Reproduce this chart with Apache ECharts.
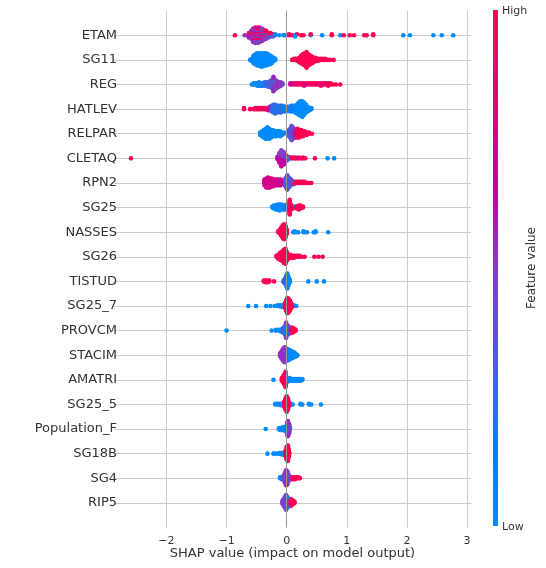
<!DOCTYPE html>
<html><head><meta charset="utf-8">
<script src="https://cdn.jsdelivr.net/npm/echarts@6/dist/echarts.min.js"></script>
<style>html,body{margin:0;padding:0;background:#fff}#c{width:546px;height:568px}</style>
</head><body><div id="c"></div>
<script>
// features, top to bottom
const features = ['ETAM','SG11','REG','HATLEV','RELPAR','CLETAQ','RPN2','SG25','NASSES','SG26','TISTUD','SG25_7','PROVCM','STACIM','AMATRI','SG25_5','Population_F','SG18B','SG4','RIP5'];
const xTicks = [-2,-1,0,1,2,3];
const colorbarLabels = ['High','Low'];
// each entry: [SHAP value, feature value (0 = low .. 1 = high), number of samples]
const ETAM = [[-0.86,1,1],[-0.70,0.5,1],
 [-0.63,0.6,3],[-0.63,1,2],[-0.59,0.55,5],[-0.59,1,3],
 [-0.56,0.5,6],[-0.56,0.8,4],[-0.56,1,3],[-0.52,0.5,6],[-0.52,0.8,5],[-0.52,1,4],
 [-0.48,0.45,6],[-0.48,0.8,5],[-0.48,1,4],[-0.45,0.5,5],[-0.45,0.8,5],[-0.45,1,4],
 [-0.41,0.45,5],[-0.41,0.75,4],[-0.41,1,3],[-0.38,0.5,4],[-0.38,1,4],[-0.38,0.3,2],
 [-0.34,0.5,3],[-0.34,1,3],[-0.34,0.3,2],[-0.30,0.4,3],[-0.30,1,2],
 [-0.27,0.3,2],[-0.27,1,2],[-0.23,0.4,2],[-0.23,1,1],
 [-0.19,0.1,2],[-0.12,0,1],[-0.05,0,1],[-0.01,0,1],[0.04,1,2],[0.09,1,1],[0.14,0,2],[0.17,1,1],
 [0.24,1,1],[0.28,1,1],[0.40,0,1],[0.40,1,1],[0.59,0,1],[0.75,1,2],[0.89,0,1],[0.95,1,1],
 [1.05,1,1],[1.12,1,1],[1.29,1,1],[1.33,1,1],[1.44,1,2],[1.94,0,1],[2.05,0,1],[2.44,0,1],[2.58,0,1],[2.77,0,1]];
const SG11 = [[-0.61,0,1],[-0.58,0,3],[-0.55,0,8],[-0.52,0,10],[-0.49,0,12],[-0.46,0,12],[-0.43,0,13],
 [-0.40,0,13],[-0.37,0,12],[-0.34,0,12],[-0.31,0,10],[-0.28,0,9],[-0.25,0,7],[-0.22,0,4],[-0.19,0,2],
 [0.09,1,1],[0.12,1,2],[0.15,1,2],[0.18,1,3],[0.21,1,5],[0.24,1,8],[0.27,1,10],[0.30,1,12],[0.33,1,15],
 [0.36,1,11],[0.39,1,9],[0.42,1,7],[0.45,1,5],[0.48,1,4],[0.52,1,3],[0.56,1,2],[0.60,1,2],[0.64,1,2],
 [0.68,1,1],[0.72,1,1],[0.78,1,1]];
const REG = [[-0.58,0,1],[-0.55,0,2],[-0.52,0.05,2],[-0.49,0,3],[-0.46,0.1,4],[-0.43,0,3],[-0.40,0.2,3],
 [-0.37,0.1,4],[-0.34,0.3,4],[-0.31,0.2,5],[-0.28,0.35,6],[-0.25,0.45,5],[-0.25,0.1,3],[-0.22,0.55,9],[-0.22,0.1,5],
 [-0.19,0.45,9],[-0.16,0.55,7],[-0.13,0.5,5],[-0.10,0.5,4],[-0.07,0.45,2],
 [0.06,0.7,2],[0.09,0.75,2],[0.13,0.8,2],[0.17,0.9,2],[0.21,0.85,2],[0.25,1,2],[0.29,0.8,3],[0.33,0.9,2],
 [0.37,1,2],[0.41,0.85,2],[0.45,1,2],[0.49,0.8,2],[0.53,1,2],[0.57,0.9,3],[0.61,1,2],[0.65,0.8,2],
 [0.69,1,3],[0.73,1,2],[0.77,1,1],[0.82,1,1],[0.89,1,1]];
const HATLEV = [[-0.71,1,2],[-0.61,1,1],[-0.55,1,1],[-0.52,1,2],[-0.49,0.9,2],[-0.46,1,2],[-0.43,0.9,2],
 [-0.40,1,2],[-0.37,0.85,2],[-0.34,1,2],[-0.31,0.8,3],[-0.28,0.6,4],[-0.25,0.3,6],[-0.22,0.2,8],[-0.19,0.25,9],
 [-0.16,0.2,7],[-0.13,0.2,6],[-0.10,0.25,7],[-0.07,0.2,6],[-0.04,0.15,5],[-0.01,0.15,5],[0.02,0.1,4],
 [0.05,0.1,5],[0.08,0.15,6],[0.11,0.1,6],[0.14,0.05,7],[0.17,0,9],[0.20,0,12],[0.23,0,14],[0.26,0,15],
 [0.29,0,12],[0.32,0,8],[0.35,0,5],[0.38,0,3],[0.41,0,2]];
const RELPAR = [[-0.44,0,3],[-0.41,0,5],[-0.38,0,7],[-0.35,0,9],[-0.32,0,10],[-0.29,0,9],[-0.26,0,7],
 [-0.23,0,6],[-0.20,0,5],[-0.17,0,5],[-0.14,0,4],[-0.11,0,5],[-0.08,0,3],[-0.05,0,2],
 [0.02,0.3,4],[0.04,0.5,6],[0.06,0.3,8],[0.08,0.4,12],[0.10,0.35,10],[0.12,0.6,8],[0.15,0.8,7],
 [0.18,1,8],[0.21,1,7],[0.24,1,6],[0.27,1,5],[0.30,1,4],[0.33,1,3],[0.37,1,2],[0.42,1,1]];
const CLETAQ = [[-2.59,1,1],[-0.15,0.65,4],[-0.12,0.7,6],[-0.12,0.5,6],[-0.09,0.7,10],[-0.09,0.5,9],
 [-0.05,0.65,8],[-0.05,0.45,7],[-0.02,0.6,5],[-0.02,0.3,3],[0.01,0.2,3],[0.01,0.7,2],[0.04,0,2],
 [0.07,1,2],[0.10,1,2],[0.14,1,2],[0.17,1,1],[0.20,0.8,2],[0.24,1,1],[0.27,1,2],[0.31,1,1],
 [0.47,1,1],[0.68,0,1],[0.79,0,1]];
const RPN2 = [[-0.37,0.75,6],[-0.34,0.75,9],[-0.31,0.75,10],[-0.28,0.75,9],[-0.25,0.75,8],[-0.22,0.75,7],
 [-0.19,0.75,6],[-0.16,0.7,6],[-0.13,0.7,6],[-0.10,0.75,6],[-0.07,0.7,4],
 [-0.03,0.4,6],[-0.01,0.35,10],[0.01,0.4,14],[0.03,0.2,10],[0.05,0.45,8],[0.07,0.35,6],[0.09,0.5,4],
 [0.12,1,3],[0.15,1,2],[0.18,1,2],[0.21,1,2],[0.24,1,2],[0.27,1,2],[0.30,1,2],[0.33,1,1],[0.37,1,1],[0.41,1,1]];
const SG25 = [[-0.24,0,2],[-0.21,0,4],[-0.18,0,5],[-0.15,0,6],[-0.12,0,7],[-0.09,0,6],[-0.06,0,5],
 [-0.03,0.1,5],[0.00,0.2,6],[0.03,0.5,4],[0.05,1,16],[0.07,0.9,6],[0.10,1,3],[0.13,0,2],
 [0.17,1,3],[0.20,1,5],[0.23,1,4],[0.27,1,2]];
const NASSES = [[-0.14,1,2],[-0.12,1,4],[-0.10,1,8],[-0.08,1,12],[-0.06,1,16],[-0.04,1,18],[-0.02,1,14],
 [0.00,1,6],[0.11,0,1],[0.13,0,2],[0.16,0,1],[0.19,0,1],[0.28,0,2],[0.31,0,1],[0.34,0,1],
 [0.45,0,1],[0.48,0,2],[0.69,0,1]];
const SG26 = [[-0.17,1,2],[-0.14,1,5],[-0.11,1,8],[-0.08,1,10],[-0.05,1,14],[-0.03,0.1,3],[-0.02,1,16],
 [0.00,1,10],[0.02,0.2,3],[0.03,1,5],[0.06,1,4],[0.09,1,3],[0.12,1,3],[0.15,1,2],[0.18,1,2],
 [0.21,1,2],[0.25,1,1],[0.30,1,1],[0.46,1,1],[0.53,1,1],[0.60,1,1]];
const TISTUD = [[-0.38,1,2],[-0.35,1,3],[-0.32,1,3],[-0.29,1,2],[-0.21,1,1],[-0.05,0.3,3],[-0.03,0.4,6],
 [-0.01,0.2,12],[0.01,0.1,18],[0.03,0,10],[0.05,0,4],[0.36,0,1],[0.50,0,1],[0.62,0,1]];
const SG25_7 = [[-0.64,0,1],[-0.51,0,1],[-0.34,0,1],[-0.27,0,1],[-0.20,0,1],[-0.15,0,2],[-0.12,0,2],
 [-0.09,0,3],[-0.06,0,3],[-0.03,0.9,6],[-0.01,1,14],[0.01,1,20],[0.03,1,18],[0.05,1,14],[0.07,1,8],
 [0.09,0.9,3],[0.12,0,2],[0.16,0,1]];
const PROVCM = [[-1.00,0,1],[-0.25,0,1],[-0.18,0,2],[-0.13,0,2],[-0.10,0,3],[-0.07,0.2,5],[-0.05,0.4,8],
 [-0.03,0.1,12],[-0.01,0.5,16],[-0.01,0,6],[0.01,0.3,12],[0.03,0.6,8],[0.03,0,4],[0.05,1,6],
 [0.07,0.8,6],[0.09,1,8],[0.11,1,6],[0.13,1,4],[0.15,1,2]];
const STACIM = [[-0.11,0.5,4],[-0.09,0.55,8],[-0.07,0.5,12],[-0.05,0.55,16],[-0.03,0.5,18],[-0.01,0.45,14],
 [0.01,0.2,8],[0.01,0,6],[0.04,0,12],[0.07,0,10],[0.10,0,8],[0.13,0,6],[0.16,0,3],[0.18,0,1]];
const AMATRI = [[-0.22,0,1],[-0.08,1,4],[-0.06,1,8],[-0.04,0.9,12],[-0.02,1,10],[-0.02,0,8],[0.00,0.6,4],
 [0.02,0,5],[0.05,0,4],[0.08,0,3],[0.11,0,3],[0.14,0,3],[0.17,0,3],[0.20,0,3],[0.23,0,3],[0.26,0,2]];
const SG25_5 = [[-0.19,0,2],[-0.16,0,2],[-0.13,0,2],[-0.10,0,3],[-0.07,0,3],[-0.04,1,8],[-0.02,1,16],
 [0.00,1,22],[0.02,1,16],[0.04,1,6],[0.07,0,2],[0.10,0,1],[0.23,0,2],[0.26,0,1],[0.37,0,2],[0.41,0,1],[0.57,0,1]];
const Population_F = [[-0.35,0,1],[-0.13,0,2],[-0.11,0,3],[-0.09,0,3],[-0.07,0,4],[-0.05,0,4],[-0.03,0,5],
 [-0.01,0.1,6],[0.01,0.5,14],[0.02,0.55,18],[0.04,0.45,12],[0.05,0.3,4]];
const SG18B = [[-0.32,0,1],[-0.22,0,1],[-0.19,0,1],[-0.14,0,1],[-0.12,0,2],[-0.10,0,2],[-0.08,0,3],
 [-0.06,0,3],[-0.04,0,2],[-0.02,1,8],[0.00,1,18],[0.02,1,22],[0.03,1,12],[0.04,1,4]];
const SG4 = [[-0.11,0,2],[-0.08,0,3],[-0.05,0.4,6],[-0.03,0.5,12],[-0.01,0.55,18],[0.01,0.45,16],
 [0.03,0.4,8],[0.05,0.9,4],[0.08,1,3],[0.11,1,3],[0.14,1,3],[0.17,1,2],[0.20,1,2],[0.22,1,1]];
const RIP5 = [[-0.07,0.5,4],[-0.05,0.45,8],[-0.03,0.5,12],[-0.01,0.4,16],[0.01,0.2,12],[0.03,0.5,8],
 [0.05,1,8],[0.07,1,8],[0.09,1,6],[0.11,1,4],[0.13,1,2]];

const rows = [ETAM,SG11,REG,HATLEV,RELPAR,CLETAQ,RPN2,SG25,NASSES,SG26,TISTUD,SG25_7,PROVCM,STACIM,AMATRI,SG25_5,Population_F,SG18B,SG4,RIP5];

const cmap = ['#008bfb','#1478f2','#5058da','#8a3cc0','#c000a0','#e8006f','#ff0052'];

// beeswarm layout (same binning idea as shap summary plot)
function swarm(runs, base){
  const pts = [];
  runs.forEach((r, ri) => { for (let k = 0; k < r[2]; k++) pts.push({x:r[0], v:r[1], run:ri, k:k}); });
  const xs = pts.map(p => p.x);
  const mn = Math.min(...xs), mx = Math.max(...xs);
  pts.forEach(p => p.bin = Math.round(100 * (p.x - mn) / (mx - mn + 1e-8)));
  const bins = {};
  pts.forEach(p => { (bins[p.bin] = bins[p.bin] || []).push(p); });
  Object.keys(bins).forEach(b => {
    const arr = bins[b];
    arr.sort((p, q) => (p.k - q.k) || (p.run - q.run));
    arr.forEach((p, layer) => { p.y = Math.ceil(layer / 2) * ((layer % 2) * 2 - 1); });
  });
  const maxY = Math.max(...pts.map(p => p.y + 1));
  pts.forEach(p => { p.y = base + p.y * 0.9 * (0.4 / maxY); });
  pts.sort((p, q) => (p.k - q.k) || (p.run - q.run));
  return pts.map(p => [p.x, p.y, p.v]);
}

let data = [];
rows.forEach((r, i) => { data = data.concat(swarm(r, features.length - 1 - i)); });

const chart = echarts.init(document.getElementById('c'), null, {renderer:'canvas'});
const txt = '#333333';
const GL = 114, GT = 10.7, GW = 357, GH = 516.8;
chart.setOption({
  animation: false,
  backgroundColor: '#ffffff',
  textStyle: {fontFamily: 'DejaVu Sans'},
  grid: {left: GL, top: GT, width: GW, height: GH},
  xAxis: {
    type: 'value', min: -2.873, max: 3.066, minInterval: 1, maxInterval: 1,
    axisLine: {show: true, lineStyle: {color: '#cccccc', width: 1}},
    axisTick: {show: false},
    axisLabel: {
      color: txt, fontSize: 11, margin: 8, fontFamily: 'DejaVu Sans',
      showMinLabel: false, showMaxLabel: false,
      formatter: v => xTicks.includes(v) ? (v < 0 ? '\u2212' + Math.abs(v) : String(v)) : ''
    },
    splitLine: {show: true, showMinLine: false, showMaxLine: false, lineStyle: {color: '#cccccc', width: 1}}
  },
  yAxis: {
    type: 'value', min: -1, max: 20, interval: 1,
    axisLine: {show: false}, axisTick: {show: false},
    axisLabel: {
      color: txt, fontSize: 13, margin: -3, fontFamily: 'DejaVu Sans', padding: [4, 0, 0, 0],
      formatter: v => (v >= 0 && v <= 19) ? features[19 - v] : ''
    },
    splitLine: {show: true, showMinLine: false, showMaxLine: false, lineStyle: {color: '#cccccc', width: 1}}
  },
  visualMap: {show: false, type: 'continuous', dimension: 2, min: 0, max: 1, seriesIndex: 1,
    inRange: {color: cmap}},
  series: [
    {type: 'line', data: [], z: 1, silent: true,
     markLine: {silent: true, symbol: 'none', label: {show: false},
       lineStyle: {color: '#999999', width: 1, type: 'solid'}, data: [{xAxis: 0}]}},
    {type: 'scatter', z: 3, silent: true, symbolSize: 4.6, data: data,
     itemStyle: {opacity: 1, borderWidth: 0}}
  ],
  graphic: [
    {type: 'rect', left: 493, top: 10, shape: {width: 5, height: 516}, silent: true,
     style: {fill: new echarts.graphic.LinearGradient(0, 1, 0, 0,
       cmap.map((c, i) => ({offset: i / (cmap.length - 1), color: c})))}},
    {type: 'text', left: 502, top: 6, silent: true,
     style: {text: colorbarLabels[0], fill: txt, font: '11px "DejaVu Sans"'}},
    {type: 'text', left: 502, top: 522, silent: true,
     style: {text: colorbarLabels[1], fill: txt, font: '11px "DejaVu Sans"'}},
    {type: 'text', x: 532, y: 268, rotation: Math.PI / 2, silent: true,
     style: {text: 'Feature value', fill: txt, font: '12px "DejaVu Sans"', align: 'center', verticalAlign: 'middle'}},
    {type: 'text', x: 292.5, y: 554, silent: true,
     style: {text: 'SHAP value (impact on model output)', fill: txt, font: '13px "DejaVu Sans"', align: 'center', verticalAlign: 'middle'}}
  ]
});
</script></body></html>
